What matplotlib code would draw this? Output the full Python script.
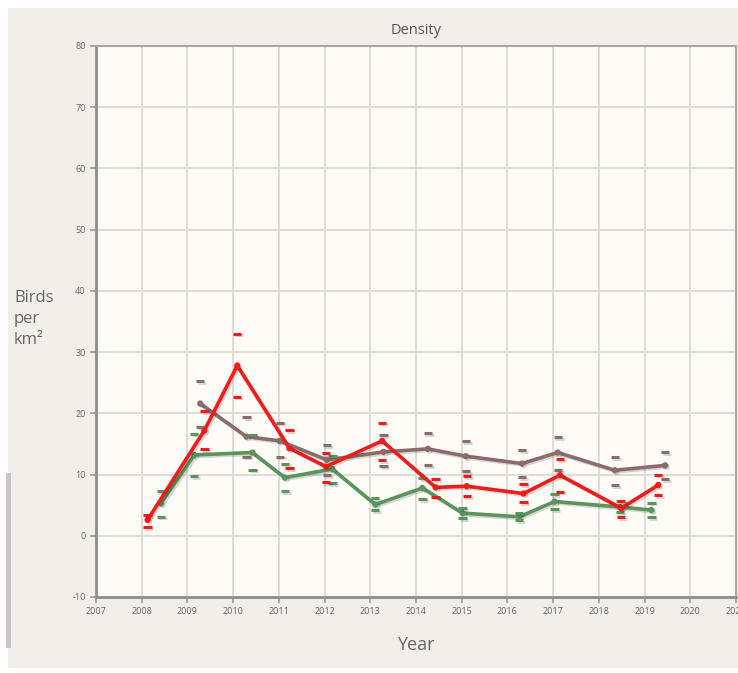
import matplotlib
matplotlib.use("Agg")
from matplotlib import pyplot as plt
import matplotlib.patheffects as pe
from matplotlib.patches import Rectangle

plt.rcParams['font.family'] = ['Open Sans', 'DejaVu Sans']
plt.rcParams['axes.unicode_minus'] = False

# red series
red_x = [2008.13, 2009.37, 2010.09, 2011.23, 2012.03, 2013.26, 2014.43, 2015.11, 2016.35, 2017.15, 2018.49, 2019.30]
red_y = [2.6, 17.2, 27.8, 14.3, 11.3, 15.5, 7.9, 8.1, 6.9, 9.9, 4.5, 8.3]
red_hi = [3.4, 20.4, 33.0, 17.3, 13.5, 18.5, 9.3, 9.7, 8.4, 12.5, 5.7, 10.0]
red_lo = [1.4, 14.1, 22.7, 11.0, 8.8, 12.3, 6.4, 6.5, 5.5, 7.2, 3.0, 6.6]

# brown series
brown_x = [2009.28, 2010.29, 2011.02, 2012.05, 2013.29, 2014.26, 2015.09, 2016.32, 2017.10, 2018.35, 2019.45]
brown_y = [21.6, 16.2, 15.5, 12.4, 13.7, 14.2, 13.0, 11.8, 13.6, 10.7, 11.5]
brown_hi = [25.3, 19.4, 18.5, 14.8, 16.4, 16.8, 15.5, 14.0, 16.1, 12.8, 13.7]
brown_lo = [17.8, 12.9, 12.9, 9.9, 11.4, 11.5, 10.6, 9.6, 10.8, 8.3, 9.2]

# green series
green_x = [2008.42, 2009.15, 2010.42, 2011.13, 2012.17, 2013.11, 2014.14, 2015.02, 2016.26, 2017.03, 2018.46, 2019.15]
green_y = [5.3, 13.2, 13.6, 9.5, 10.9, 5.1, 7.8, 3.7, 3.1, 5.6, 4.7, 4.2]
green_hi = [7.3, 16.7, 16.5, 11.8, 13.1, 6.1, 9.4, 4.5, 3.7, 6.8, 5.7, 5.4]
green_lo = [3.1, 9.7, 10.8, 7.3, 8.6, 4.2, 6.0, 2.9, 2.6, 4.3, 3.9, 3.0]

years = list(range(2007, 2022))
yticks = list(range(-10, 81, 10))

fig = plt.figure(figsize=(7.38, 6.73), dpi=100)
fig.patch.set_facecolor('#ffffff')
# page background panel
fig.add_artist(Rectangle((8 / 738, 5 / 673), 1, 1 - 13 / 673, transform=fig.transFigure,
                         facecolor='#f2efeb', edgecolor='none', zorder=-10))
fig.add_artist(Rectangle((6 / 738, 25 / 673), 5 / 738, 175 / 673, transform=fig.transFigure,
                         facecolor='#c8c6c4', edgecolor='none', zorder=-9))

ax = fig.add_axes([96 / 738, 1 - 597 / 673, 640 / 738, 551 / 673])
ax.set_facecolor('#fefcf6')
ax.set_xlim(2007, 2021)
ax.set_ylim(-10, 80)
ax.set_xticks(years)
ax.set_xticklabels([str(y) for y in years])
ax.set_yticks(yticks)
ax.grid(True, color='#dcdad6', linewidth=1.3)
ax.set_axisbelow(True)
ax.tick_params(labelsize=6.5, colors='#999999', labelcolor='#666666', length=4, width=1.2)
for s in ['left', 'bottom']:
    ax.spines[s].set_color('#8e8e8e')
    ax.spines[s].set_linewidth(2)
for s in ['top', 'right']:
    ax.spines[s].set_color('#a8a8a8')
    ax.spines[s].set_linewidth(1.5)

shadow = [pe.SimpleLineShadow(offset=(1.2, -1.2), shadow_color='#000000', alpha=0.15), pe.Normal()]

series = [
    (brown_x, brown_y, brown_hi, brown_lo, '#8c6b6b'),
    (green_x, green_y, green_hi, green_lo, '#5c955c'),
    (red_x, red_y, red_hi, red_lo, '#ee1c1c'),
]
for xs, ys, hi, lo, c in series:
    ax.plot(xs, ys, color=c, linewidth=2.6, marker='o', markersize=3.5, zorder=3,
            path_effects=shadow)
    ax.plot(xs, hi, linestyle='none', marker='_', markersize=6, markeredgewidth=2.2,
            color=c, zorder=3, path_effects=shadow)
    ax.plot(xs, lo, linestyle='none', marker='_', markersize=6, markeredgewidth=2.2,
            color=c, zorder=3, path_effects=shadow)

ax.set_title('Density', fontsize=10.5, color='#555555', pad=9)
ax.set_xlabel('Year', fontsize=13, color='#666666', labelpad=14)
fig.text(14 / 738, 1 - 290 / 673, 'Birds\nper\nkm\u00b2', fontsize=12, color='#666666',
         va='top', ha='left', linespacing=1.4)

fig.savefig('out.png', dpi=100, facecolor=fig.get_facecolor())
